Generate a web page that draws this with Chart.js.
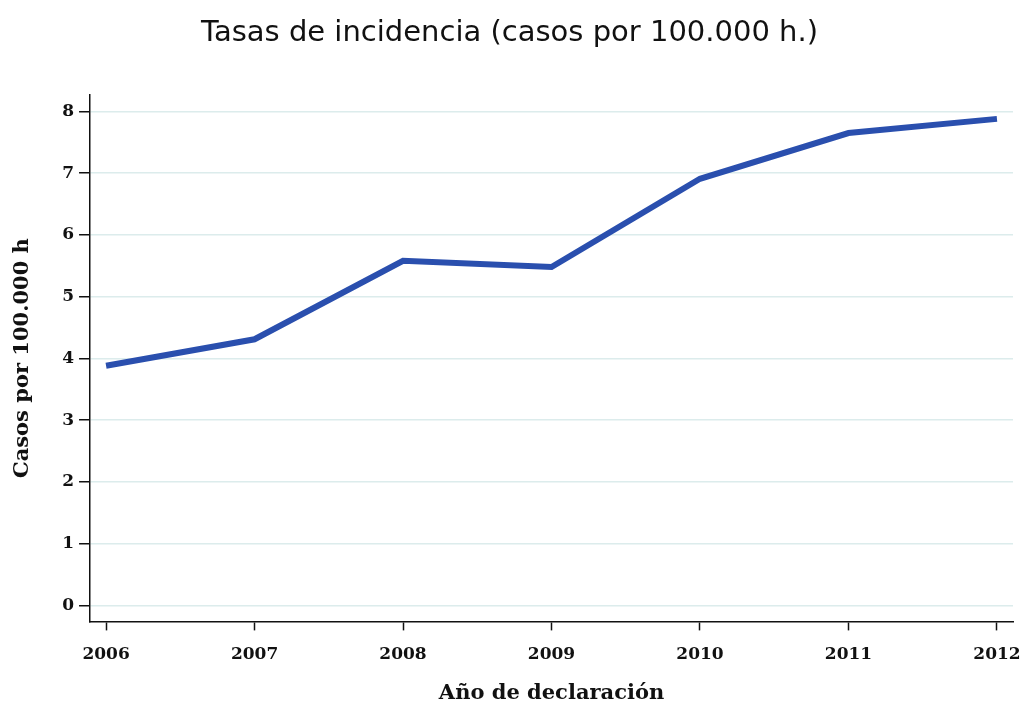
<!DOCTYPE html>
<html>
<head>
<meta charset="utf-8">
<script src="https://cdn.jsdelivr.net/npm/chart.js@4.4.1/dist/chart.umd.min.js"></script>
<style>
  html, body { margin: 0; padding: 0; background: #fff; }
  #wrap { width: 1023px; height: 706px; }
</style>
</head>
<body>
<div id="wrap"><canvas id="line-chart"></canvas></div>
<script>
const years = [2006, 2007, 2008, 2009, 2010, 2011, 2012];
const rates = [3.88, 4.31, 5.58, 5.48, 6.91, 7.65, 7.88];
const yTicks = [0, 1, 2, 3, 4, 5, 6, 7, 8];

const serif = "'DejaVu Serif', 'Liberation Serif', serif";

// put the ticks exactly where the reference has them
function fixedTicks(values) {
    return function (scale) {
        scale.ticks = values.map(v => ({ value: v }));
    };
}

const lineChart = new Chart(document.getElementById('line-chart'), {
    type: 'line',
    data: {
        datasets: [{
            label: 'Tasa',
            data: years.map((y, i) => ({ x: y, y: rates[i] })),
            borderColor: '#2a4fae',
            borderWidth: 6,
            pointRadius: 0,
            tension: 0,
            fill: false
        }]
    },
    options: {
        responsive: true,
        maintainAspectRatio: false,
        animation: false,
        layout: {
            padding: { left: 6, right: 10, top: 0, bottom: 0 }
        },
        plugins: {
            legend: { display: false },
            tooltip: { enabled: false },
            title: {
                display: true,
                text: 'Tasas de incidencia (casos por 100.000 h.)',
                color: '#111',
                font: { family: "'DejaVu Sans', sans-serif", size: 29, weight: 'normal' },
                padding: { top: 16, bottom: 44 }
            }
        },
        scales: {
            x: {
                type: 'linear',
                min: 2005.892,
                max: 2012.108,
                afterBuildTicks: fixedTicks(years),
                // end labels may overhang the plot, as in the reference
                afterFit: scale => { scale.paddingLeft = 0; scale.paddingRight = 0; },
                ticks: {
                    color: '#111',
                    padding: 14,
                    font: { family: serif, size: 17, weight: 'bold' },
                    callback: v => String(v)
                },
                grid: {
                    drawOnChartArea: false,
                    drawTicks: true,
                    tickLength: 9,
                    tickColor: '#111',
                    tickWidth: 1.5
                },
                border: { color: '#111', width: 1.5 },
                title: {
                    display: true,
                    text: 'Año de declaración',
                    color: '#111',
                    font: { family: serif, size: 21, weight: 'bold' },
                    padding: { top: 2, bottom: 0 }
                }
            },
            y: {
                min: -0.26,
                max: 8.27,
                afterBuildTicks: fixedTicks(yTicks),
                ticks: {
                    color: '#111',
                    padding: 5,
                    font: { family: serif, size: 17, weight: 'bold' }
                },
                grid: {
                    color: '#dcecec',
                    lineWidth: 1.5,
                    drawTicks: true,
                    tickLength: 11,
                    tickColor: '#111',
                    tickWidth: 1.5
                },
                border: { color: '#111', width: 1.5 },
                title: {
                    display: true,
                    text: 'Casos por 100.000 h',
                    color: '#111',
                    font: { family: serif, size: 21, weight: 'bold' },
                    padding: { bottom: 22 }
                }
            }
        }
    }
});
</script>
</body>
</html>
